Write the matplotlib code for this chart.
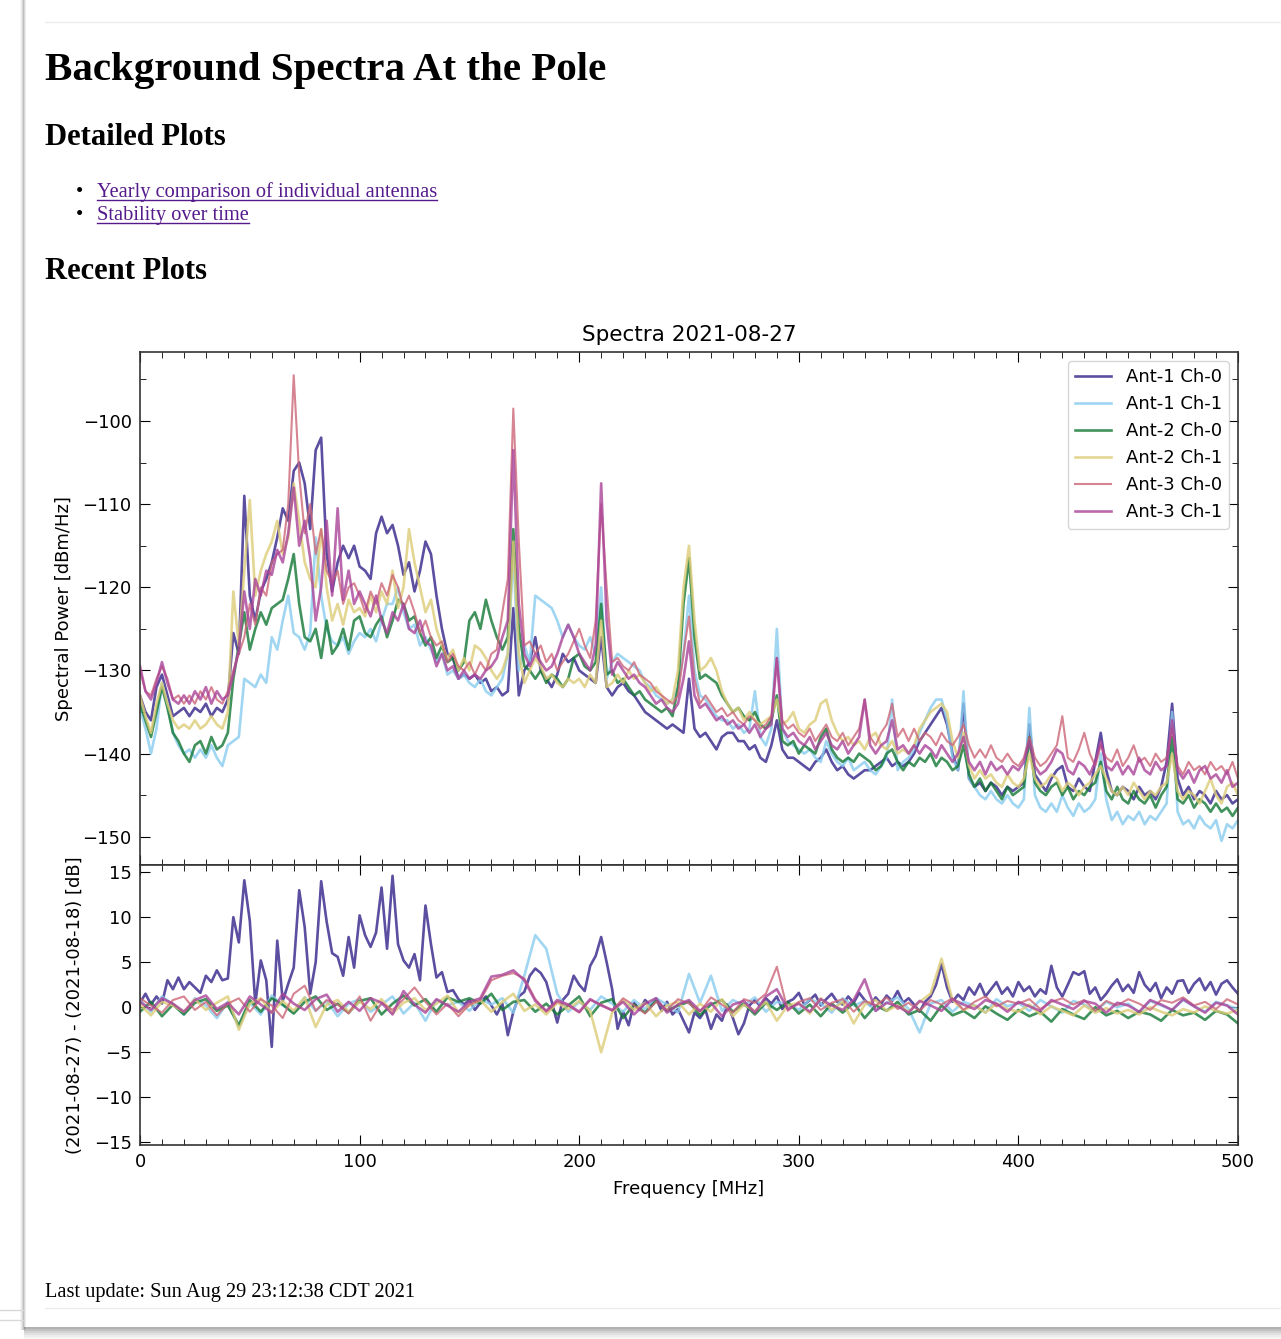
import numpy as np
import matplotlib
matplotlib.use("Agg")
import matplotlib.pyplot as plt
from matplotlib.ticker import MultipleLocator
from matplotlib.patches import Rectangle

plt.rcParams['font.family'] = ['DejaVu Sans']
plt.rcParams['axes.unicode_minus'] = True

# frequency grids [MHz]
freq = np.arange(0, 500.01, 2.5)     # 201 points
freq_c = np.arange(0, 500.01, 5.0)   # 101 points

labels = ['Ant-1 Ch-0', 'Ant-1 Ch-1', 'Ant-2 Ch-0', 'Ant-2 Ch-1', 'Ant-3 Ch-0', 'Ant-3 Ch-1']
colors = ['#332288', '#88CCEE', '#117733', '#DDCC77', '#CC6677', '#AA4499']

# spectra 2021-08-27 [dBm/Hz], one row = 25 MHz
a1c0 = [-133, -135, -136, -132, -130.5, -133, -135.5, -135, -134.5, -135.5,
        -134.5, -135, -134, -135.5, -134.5, -135, -133.5, -125.5, -128, -109,
        -121, -124, -120.5, -119, -117, -114, -110.5, -112, -106, -105,
        -107.5, -113, -103.5, -102, -116, -120.5, -117, -115, -116.5, -115,
        -117.5, -118, -119, -113.5, -111.5, -113.5, -112.5, -115, -118.5, -117,
        -120.5, -118, -114.5, -116, -121, -125, -128, -128.5, -131, -130.5,
        -131, -130.5, -131.5, -131, -132.5, -132, -133, -132.5, -122.5, -133,
        -130, -129, -126, -130, -131, -132, -130.5, -128, -129, -128.5,
        -130, -130.5, -131, -131.5, -126, -132, -133, -132, -131.5, -132.5,
        -133, -134, -135, -135.5, -136, -136.5, -137, -136.5, -137, -137.5,
        -131, -137, -138, -137.5, -138.5, -139.5, -138, -137.5, -137.5, -138.5,
        -138.5, -139.5, -139, -140.5, -141, -139, -136, -139.5, -140.5, -140.5,
        -141, -141.5, -142, -141, -140.5, -139.5, -141, -142, -141.5, -142.5,
        -143, -142.5, -142, -142, -141.5, -141, -140.5, -141.5, -141, -141.5,
        -141, -140, -138.5, -137.5, -136.5, -135.5, -134.5, -136.5, -140, -142,
        -134, -143, -144, -143.5, -144.5, -143.5, -144, -145, -144, -144.5,
        -144, -143.5, -136.5, -142.5, -143.5, -144.5, -143, -142, -141.5, -144,
        -144.5, -143, -144, -144.5, -141, -137.5, -142, -144.5, -145, -144,
        -144.5, -145.5, -144, -145, -144.5, -145.5, -144, -141, -134, -143,
        -145, -144, -145.5, -144.5, -145, -146, -144.5, -145.5, -145, -146,
        -145.5]
a1c1 = [-134.5, -137, -140, -137, -131.5, -134, -137.5, -139, -140, -139.5,
        -140.5, -139.5, -140.5, -139, -140.5, -141.5, -139, -138.5, -138, -131,
        -131.5, -132, -130.5, -131.5, -126, -127.5, -124, -121, -125.5, -126,
        -127.5, -125.5, -114, -121, -125, -126.5, -127, -126, -128, -126.5,
        -125.5, -126, -125, -126.5, -124, -122, -122, -120, -123, -125,
        -124.5, -127, -126, -127.5, -129, -128, -130.5, -130, -131, -130.5,
        -131.5, -132, -131, -132.5, -133, -132, -131, -128, -116, -130,
        -127, -129, -121, -121.5, -122, -122.5, -124, -126, -124.5, -126,
        -127, -127.5, -126, -128, -120, -131, -129, -128, -128.5, -129,
        -129.5, -130, -131.5, -132, -133, -133.5, -134, -133.5, -132, -128,
        -121, -130, -133, -133.5, -134.5, -135.5, -136, -136, -137, -136.5,
        -137.5, -137, -132.5, -138, -139, -137, -125, -137, -138.5, -139,
        -139.5, -140, -139.5, -140.5, -141, -138.5, -140, -141, -141.5, -140.5,
        -142, -141.5, -141, -142, -142.5, -141.5, -140.5, -133.5, -142, -141,
        -140.5, -139.5, -137.5, -136, -134.5, -133.5, -133.5, -136, -140.5, -142,
        -132.5, -143, -144, -145, -145.5, -144.5, -145.5, -146, -145, -146,
        -146.5, -145.5, -134.5, -145, -146.5, -147, -146, -147, -145, -146.5,
        -147.5, -146, -147, -146.5, -145.5, -140, -145.5, -148, -147, -148.5,
        -147.5, -148, -147, -148.5, -147.5, -148, -147, -146, -135, -147,
        -148.5, -148, -149, -147.5, -148.5, -149, -148, -150.5, -148.5, -149,
        -148]
a2c0 = [-134, -136, -138, -135, -132, -134.5, -137.5, -138.5, -140, -141,
        -139, -138.5, -140, -138, -139.5, -139, -137.5, -131, -127, -123,
        -127.5, -125, -123, -124.5, -122.5, -122, -121.5, -119, -116, -122,
        -126, -126.5, -125, -128.5, -124, -128, -127, -125, -127.5, -124,
        -123.5, -125.5, -126, -124.5, -123.5, -126, -124, -121.5, -122, -124,
        -123.5, -125.5, -127, -126, -128.5, -127, -129, -128.5, -130, -129,
        -124, -123, -125, -121.5, -124, -126, -127.5, -126, -113, -125,
        -129.5, -130, -131, -130, -131.5, -130.5, -131, -132, -131, -128.5,
        -128, -129.5, -130, -129, -122, -130.5, -130, -131.5, -131, -132,
        -133, -132.5, -133.5, -134, -134.5, -135, -134.5, -135.5, -132, -122,
        -116.5, -126, -131, -130.5, -131, -131.5, -133, -134, -135, -134.5,
        -135.5, -136, -135, -136.5, -137, -136, -133, -138.5, -139, -138.5,
        -140, -139, -139.5, -140, -138, -137, -139.5, -140.5, -141, -140.5,
        -141, -140, -140.5, -141, -142, -141.5, -140, -139.5, -141, -142,
        -141, -141.5, -140.5, -141, -140, -141.5, -140.5, -141, -142, -141.5,
        -139, -142.5, -144, -143, -144.5, -143.5, -144.5, -145.5, -144, -145,
        -144.5, -144, -138, -143.5, -144.5, -145, -144, -143.5, -145, -144,
        -145.5, -144.5, -145, -144, -143.5, -141, -144.5, -145.5, -144, -145.5,
        -146, -144.5, -145.5, -146, -145, -146.5, -145, -144, -138, -145.5,
        -146, -145, -146.5, -145.5, -146, -147, -146, -147, -146.5, -147.5,
        -146.5]
a2c1 = [-133, -135.5, -137.5, -134, -131.5, -134, -136, -137, -136.5, -137,
        -136, -137, -136.5, -135.5, -136.5, -137, -135, -120.5, -127, -118,
        -109.5, -121, -118, -116, -114.5, -112, -116, -114, -107.5, -112,
        -117, -119, -120, -113, -120, -124, -122, -124.5, -121.5, -123,
        -122.5, -123.5, -121, -123, -120.5, -122, -118, -122.5, -120, -113,
        -117, -120, -123, -121.5, -125, -127, -128.5, -127.5, -130, -128.5,
        -130, -127, -127.5, -128.5, -130, -131, -130, -128, -114.5, -128,
        -131.5, -130, -128.5, -129.5, -131, -130.5, -131.5, -132, -131, -131.5,
        -131, -132, -130.5, -131.5, -124, -132, -131.5, -130.5, -131.5, -130,
        -131, -130.5, -131.5, -132.5, -132, -133, -134, -133.5, -130, -120,
        -115, -124, -130, -129.5, -128.5, -130, -132.5, -134, -135, -134.5,
        -136, -135, -136, -136.5, -136, -135.5, -133.5, -136.5, -136, -135,
        -137, -137.5, -136.5, -136, -134, -133.5, -136, -137.5, -138.5, -138,
        -139, -138.5, -139.5, -138, -137.5, -139, -139.5, -138.5, -140, -139.5,
        -140, -139, -137, -136, -135, -134.5, -134, -135, -138.5, -140.5,
        -137.5, -141.5, -143, -142, -143, -142.5, -143.5, -144, -142.5, -143.5,
        -144, -143, -140, -143, -144, -143.5, -142.5, -143, -144.5, -143.5,
        -144, -145, -144, -143.5, -142.5, -141.5, -143, -144.5, -145, -144,
        -145, -143.5, -144.5, -145.5, -144.5, -145, -144, -143.5, -140, -144.5,
        -145.5, -144.5, -145, -146, -144.5, -143, -145, -146, -144, -143.5,
        -145]
a3c0 = [-130, -132.5, -133, -131, -129.5, -131, -133.5, -133, -134, -133,
        -134, -132.5, -133.5, -132, -133.5, -134, -132.5, -130, -128, -126,
        -122, -124.5, -120, -121, -117, -116, -115.5, -110, -94.5, -106.5,
        -113.5, -110, -116, -113, -118, -119.5, -118, -122, -120, -119.5,
        -121, -123, -120.5, -122, -119.5, -121, -118.5, -120, -122.5, -121,
        -123, -125.5, -124, -126, -127, -126.5, -129, -128, -129.5, -130,
        -129, -130.5, -129, -130, -128, -127.5, -123, -119, -98.5, -114.5,
        -127, -126.5, -128, -127, -129, -128, -130, -129, -128, -126.5,
        -125, -127, -128.5, -124, -110, -120, -129, -128.5, -129.5, -130,
        -129, -130.5, -131, -131.5, -132.5, -133, -133.5, -134, -133, -128,
        -123.5, -131, -134, -133, -134, -135, -134.5, -135.5, -135, -136,
        -136.5, -135.5, -136, -137, -136.5, -135.5, -128.5, -136, -137, -136.5,
        -137.5, -138, -137, -138.5, -137.5, -136.5, -138, -138.5, -137.5, -139,
        -138, -137, -133.5, -138, -139, -137.5, -136.5, -134, -138, -137,
        -138.5, -137, -138.5, -137.5, -138, -139, -137.5, -138.5, -139, -138,
        -136.5, -139, -140.5, -139.5, -140.5, -139, -140.5, -141, -140, -141,
        -141.5, -140.5, -138, -140.5, -141.5, -141, -140, -139, -135.5, -140.5,
        -141, -139.5, -137.5, -140, -141.5, -139, -140.5, -141, -139.5, -141.5,
        -140.5, -139, -141, -140.5, -141.5, -140, -141, -140.5, -137, -141.5,
        -142.5, -141, -142, -141.5, -142.5, -141, -142, -141.5, -142.5, -141,
        -143]
a3c1 = [-129.5, -132.5, -133.5, -131.5, -129, -131.5, -133.5, -134, -133, -134,
        -132.5, -133.5, -132, -134, -132.5, -133.5, -133, -130.5, -127.5, -120.5,
        -125, -119, -121, -118, -118.5, -115.5, -117, -113.5, -108, -115,
        -112, -116.5, -124, -120, -112, -121, -110.5, -121.5, -118, -122,
        -120.5, -122, -123.5, -121, -124, -125.5, -123, -124, -122, -125,
        -125.5, -124, -126.5, -127, -129.5, -128, -130, -129.5, -131, -130,
        -131, -130.5, -131, -130, -129.5, -128.5, -126, -124, -103.5, -122,
        -128, -129.5, -128, -129, -130, -129.5, -128, -126, -124.5, -126,
        -128, -129, -130, -127, -107.5, -124, -130.5, -129, -130, -131,
        -130.5, -131.5, -132, -133, -134, -133.5, -134.5, -135, -134, -131,
        -126.5, -133, -134.5, -134, -135, -136, -135.5, -136.5, -136, -137,
        -136.5, -137.5, -136.5, -138, -137, -136.5, -128.5, -137, -138, -137.5,
        -138.5, -139, -138, -139.5, -138.5, -137.5, -139, -139.5, -138.5, -140,
        -139, -138, -133.5, -139, -140, -139, -138.5, -136, -139.5, -139,
        -140, -139, -140, -139, -139.5, -140.5, -139, -140, -141, -140,
        -138, -141, -142, -141, -142.5, -141, -142, -141.5, -142.5, -141.5,
        -142, -141, -138.5, -141.5, -142.5, -142, -141, -139.5, -140, -142,
        -142.5, -141, -141.5, -142.5, -141, -138.5, -141.5, -142, -141, -142.5,
        -141.5, -142.5, -140.5, -142, -142.5, -141, -142, -141.5, -136, -142,
        -143, -142, -143.5, -142, -141.5, -143, -142.5, -143.5, -142, -144,
        -143.5]

# difference (2021-08-27) - (2021-08-18) [dB]
d_a1c0 = [0.5, 1.5, 0.3, 1.2, 0.4, 3.0, 2.0, 3.3, 2.0, 2.8,
          2.2, 1.6, 3.5, 2.8, 4.1, 3.0, 3.2, 10.0, 7.2, 14.1,
          9.6, 0.4, 5.2, 3.0, -4.4, 7.4, 0.7, 2.6, 4.4, 13.0,
          8.9, 1.5, 5.0, 14.0, 9.5, 6.0, 5.6, 3.5, 7.8, 4.4,
          10.2, 8.0, 6.7, 8.3, 13.3, 6.5, 14.6, 7.0, 5.2, 4.4,
          5.9, 3.0, 11.3, 7.0, 3.3, 3.9, 1.7, 1.9, 0.9, 0.3,
          0.8, -0.3, 0.5, 1.2, 0.2, -0.8, 0.4, -3.1, -0.5, 1.2,
          1.7, 3.5, 4.3, 3.8, 2.8, 0.6, -1.7, 0.8, 1.5, 3.5,
          2.5, 1.8, 4.6, 5.7, 7.8, 5.0, 2.0, -2.4, -0.5, -2.0,
          0.5, -0.3, 0.8, 0.2, 1.0, -0.4, 0.6, -0.8, -0.2, -1.5,
          -2.8, -0.6, -1.2, -0.3, -2.4, -0.8, -1.5, 0.3, -1.2, -3.0,
          -1.8, 0.2, 0.8, 0.1, 1.0, 0.4, 1.2, -0.2, 0.6, 0.9,
          1.6, 0.3, 0.8, 1.4, 0.2, 0.9, 1.5, 0.6, 0.3, 1.2,
          0.5, 1.6, 0.8, 0.2, 1.1, 0.4, 1.3, 0.7, 1.8, 0.5,
          1.0, 0.3, -0.5, 0.6, 1.2, 2.5, 4.8, 2.2, 0.6, 1.4,
          0.8, 2.2, 1.4, 2.6, 1.2, 2.0, 2.8, 1.5, 2.2, 1.2,
          2.8, 1.8, 2.3, 1.2, 2.0, 1.5, 4.6, 2.2, 1.2, 2.5,
          3.9, 3.6, 4.0, 1.5, 2.2, 0.8, 1.5, 2.4, 3.1, 1.8,
          2.5, 1.6, 3.9, 2.5, 1.8, 2.7, 1.0, 2.2, 1.5, 2.9,
          3.0, 1.6, 2.6, 3.2, 1.9, 2.8, 1.4, 2.6, 3.0, 2.2,
          1.5]
# one row = 50 MHz
d_a1c1 = [0.8, -0.5, 1.2, 0.3, -0.8, 1.0, 0.2, -1.2, 0.6, -2.2,
          0.5, -0.8, 1.3, 0.2, -0.6, 1.1, -0.4, 0.7, -1.0, 0.4,
          0.9, -0.5, 0.3, 1.2, -0.7, 0.5, -1.5, 0.8, 0.2, 0.6,
          -0.4, 0.9, 0.3, 1.0, -0.6, 3.5, 8.0, 6.5, 1.5, -0.5,
          0.6, -0.3, 1.2, 0.4, -0.5, 0.8, -0.2, 1.0, 0.3, -0.6,
          3.7, 0.5, 3.5, -0.4, 0.8, 0.2, 1.1, -0.5, 0.6, 0.3,
          -0.3, 0.9, 0.4, -0.6, 1.0, 0.2, 0.7, -0.4, 0.5, 1.1,
          -0.2, -2.8, 0.4, 0.8, -0.5, 0.6, 0.2, -0.6, 0.9, 0.1,
          0.5, -0.4, 0.8, 0.1, -0.6, 0.7, 0.3, -0.5, 0.6, 0.0,
          0.4, -0.6, 0.7, 0.2, -0.3, 0.8, 0.1, -0.5, 0.6, 0.2,
          -0.2]
d_a2c0 = [-0.5, 0.6, -1.0, 0.3, -0.8, 0.5, 0.9, -0.4, 0.2, -2.0,
          0.8, -0.5, 1.0, 0.3, -0.7, 0.6, 1.2, -0.3, 0.4, -0.6,
          0.7, 1.0, -0.8, 0.4, 1.3, 0.2, 0.9, -0.5, 1.1, 0.6,
          1.0, 0.4, 1.5, -0.3, 0.6, 0.8, -0.5, 0.4, -0.8, 0.2,
          1.2, -1.0, 0.5, 0.9, -1.2, 0.3, -0.6, 0.7, -0.4, 0.2,
          0.6, -0.9, 0.3, 0.8, -0.5, 0.4, -0.8, 0.5, -0.3, 0.6,
          -0.7, 0.3, -1.0, 0.4, -0.6, 0.5, -1.2, 0.2, -0.4, 0.6,
          -0.8, -0.3, -1.5, 0.2, -0.9, -0.4, -1.2, 0.1, -0.7, -1.4,
          -0.3, -1.0, -0.5, -1.6, -0.2, -0.8, -1.3, 0.0, -0.9, -0.4,
          -1.2, -0.5, -0.8, -1.5, -0.3, -0.9, -0.6, -1.4, -0.4, -0.8,
          -1.8]
d_a2c1 = [0.3, -0.9, 0.6, 0.2, -0.5, 0.9, -0.3, 0.5, 1.2, -2.5,
          0.4, 1.0, -0.6, 0.7, -0.4, 1.1, -2.2, 0.3, 0.8, -0.5,
          0.6, -0.2, 0.9, -0.7, 0.5, 1.0, -0.3, 0.4, 1.3, -0.6,
          0.2, 0.8, -0.5, 0.6, 1.5, -0.4, 0.3, -0.8, 0.5, -0.2,
          0.7, -0.4, -5.0, -0.6, 0.8, -0.3, 0.5, -1.0, 0.2, 0.6,
          -0.8, 0.4, -0.5, 0.9, -1.0, 0.3, -0.4, 0.6, -1.5, 0.2,
          0.5, -0.7, 1.0, -0.3, 0.6, -1.8, 0.3, 0.8, -0.4, 0.2,
          -0.5, 0.6, 1.5, 5.4, 0.8, -0.3, 0.2, -0.6, 0.4, -0.2,
          -0.5, 0.3, -0.8, 0.1, -0.4, -0.9, 0.2, -0.6, -0.1, -0.7,
          -0.3, -0.8, 0.0, -0.5, -0.9, -0.2, -0.6, 0.1, -0.4, -0.7,
          -0.3]
d_a3c0 = [1.0, 0.2, -0.6, 0.8, 1.2, -0.3, 0.6, -0.9, 0.4, 1.0,
          -0.5, 0.9, 0.2, -1.2, 1.5, 2.4, -0.4, 0.8, 0.3, -0.7,
          1.2, -1.5, 0.5, -0.3, 0.9, 2.2, 0.6, -0.8, 0.4, -1.0,
          0.3, 0.8, 3.0, 3.5, 3.8, 3.2, 0.9, -0.5, 0.6, 0.2,
          -0.6, 0.8, 0.3, -0.4, 1.0, 0.2, -0.7, 0.6, -0.3, 0.9,
          0.4, -0.5, 1.1, 0.3, -0.6, 0.9, 0.5, 1.5, 4.5, -0.4,
          0.6, 1.0, -0.3, 0.5, 0.9, -0.5, 0.7, 0.2, 1.1, -0.2,
          0.5, -0.4, 0.8, 0.3, 1.0, -0.3, 0.6, 1.2, 0.1, 0.7,
          0.4, 0.9, -0.2, 0.6, 1.0, 0.3, 0.8, -0.4, 0.7, 0.2,
          0.9, 0.4, -0.3, 0.8, 0.5, 1.1, 0.2, 0.6, -0.2, 0.9,
          0.3]
d_a3c1 = [0.6, -0.3, 1.0, 0.4, -0.5, 0.8, 1.3, -0.2, 0.5, -0.8,
          1.2, 0.3, -0.6, 1.5, 0.4, -0.3, 0.9, 1.4, -0.5, 0.6,
          -0.4, 1.0, 0.5, -0.8, 1.8, 0.3, -0.6, 0.9, 0.2, -0.5,
          0.6, 1.0, 3.4, 3.6, 4.1, 3.0, 0.7, -0.4, 0.8, 0.3,
          -0.5, 0.9, 0.2, -0.3, 0.6, -0.8, 0.4, 1.0, -0.6, 0.3,
          0.8, -0.4, 0.5, -1.0, 0.3, 0.7, -0.6, 1.2, 2.0, -0.2,
          0.4, -0.5, 0.9, 0.2, -0.3, 0.8, 3.1, -0.4, 0.5, 0.1,
          -0.6, 0.7, 0.2, -0.4, 0.9, 0.3, -0.2, 0.8, 0.4, -0.5,
          0.6, 0.1, -0.4, 0.8, 0.3, -0.2, 0.7, 0.4, -0.6, 0.5,
          0.2, -0.5, 0.8, 0.3, -0.3, 0.9, 0.1, -0.6, 0.5, 0.2,
          -0.8]

spectra = [a1c0, a1c1, a2c0, a2c1, a3c0, a3c1]
diffs = [(freq, d_a1c0), (freq_c, d_a1c1), (freq_c, d_a2c0),
         (freq_c, d_a2c1), (freq_c, d_a3c0), (freq_c, d_a3c1)]
widths = [1.9, 1.9, 1.9, 1.9, 1.5, 1.9]

W, H = 1281, 1339
fig = plt.figure(figsize=(W / 100, H / 100), dpi=100)

# page background (pixel coordinates)
bg = fig.add_axes([0, 0, 1, 1], zorder=-1)
bg.set_xlim(0, W)
bg.set_ylim(H, 0)
bg.axis('off')
for i, a in enumerate([0.05, 0.12, 0.25, 0.4, 0.25, 0.1]):
    bg.add_patch(Rectangle((20 + i, 0), 1, 1330, color='#606060', alpha=a, lw=0))
for i, a in enumerate([0.45, 0.35, 0.25, 0.17, 0.1, 0.05]):
    bg.add_patch(Rectangle((24, 1327 + 2 * i), W, 2, color='#505050', alpha=a, lw=0))
bg.plot([45, W], [22, 22], color='#ececec', lw=1)
bg.plot([45, W], [1308, 1308], color='#ececec', lw=1)
bg.plot([0, 24], [1310, 1310], color='#d8d8d8', lw=1)
bg.plot([0, 24], [1320, 1320], color='#d8d8d8', lw=1)

serif = ['Liberation Serif', 'DejaVu Serif']
bg.text(45, 80, 'Background Spectra At the Pole', fontsize=29.5, fontweight='bold',
        family=serif, va='baseline')
bg.text(45, 145, 'Detailed Plots', fontsize=22, fontweight='bold', family=serif, va='baseline')
bg.text(45, 279, 'Recent Plots', fontsize=22, fontweight='bold', family=serif, va='baseline')
link_color = '#551A8B'
links = []
for y, s in [(197, 'Yearly comparison of individual antennas'), (220, 'Stability over time')]:
    bg.text(76, y, '\u2022', fontsize=15, family=serif, va='baseline')
    links.append((y, bg.text(97, y, s, fontsize=14.7, family=serif, va='baseline', color=link_color)))
bg.text(45, 1297, 'Last update: Sun Aug 29 23:12:38 CDT 2021', fontsize=14.7,
        family=serif, va='baseline')

# main spectra panel and difference panel
ax1 = fig.add_axes([140 / W, 1 - 865 / H, 1098 / W, 513 / H])
ax2 = fig.add_axes([140 / W, 1 - 1145 / H, 1098 / W, 280 / H], sharex=ax1)

for vals, lab, col, lw in zip(spectra, labels, colors, widths):
    ax1.plot(freq, vals, color=col, alpha=0.8, lw=lw, label=lab)
for (f, vals), col, lw in zip(diffs, colors, widths):
    ax2.plot(f, vals, color=col, alpha=0.8, lw=lw)

ax1.set_xlim(0, 500)
ax1.set_ylim(-153.4, -91.7)
ax2.set_ylim(-15.3, 15.8)
ax1.set_title('Spectra 2021-08-27', fontsize=15.5, pad=8)
ax1.set_ylabel('Spectral Power [dBm/Hz]', fontsize=13, labelpad=7)
ax2.set_ylabel('(2021-08-27) - (2021-08-18) [dB]', fontsize=13, labelpad=7)
ax2.set_xlabel('Frequency [MHz]', fontsize=13, labelpad=6)
ax1.legend(loc='upper right', fontsize=13)

ax1.xaxis.set_major_locator(MultipleLocator(100))
ax1.xaxis.set_minor_locator(MultipleLocator(10))
ax1.yaxis.set_major_locator(MultipleLocator(10))
ax1.yaxis.set_minor_locator(MultipleLocator(5))
ax2.yaxis.set_major_locator(MultipleLocator(5))
for ax in (ax1, ax2):
    ax.tick_params(which='both', direction='in', top=True, right=True, labelsize=13, pad=6)
    ax.tick_params(which='major', length=7)
    ax.tick_params(which='minor', length=4)
    for sp in ax.spines.values():
        sp.set_linewidth(1.2)
        sp.set_color('#333333')
plt.setp(ax1.get_xticklabels(), visible=False)

# underline the links
fig.canvas.draw()
inv = bg.transData.inverted()
for y, t in links:
    bb = t.get_window_extent()
    x0, _ = inv.transform((bb.x0, bb.y0))
    x1, _ = inv.transform((bb.x1, bb.y0))
    bg.plot([x0, x1], [y + 3, y + 3], color=link_color, lw=1)

fig.savefig('out.png', dpi=100)
